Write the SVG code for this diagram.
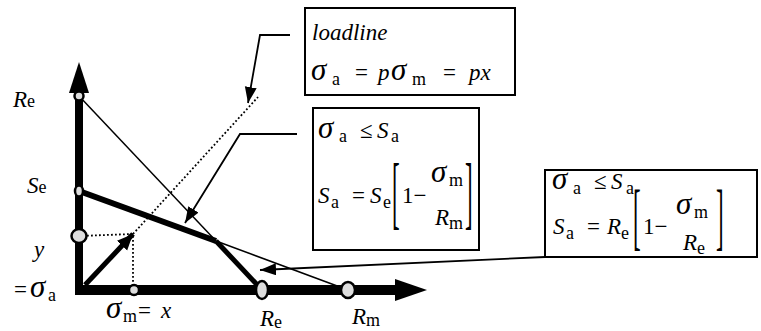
<svg xmlns="http://www.w3.org/2000/svg" width="761" height="331" viewBox="0 0 761 331">
<defs>
<style>
text{font-family:"Liberation Serif","Times New Roman","DejaVu Serif",serif;font-size:23px;fill:#000}
.i{font-style:italic}
.g{font-style:italic;font-size:31px}
.s{font-size:18px}
.box{fill:#fff;stroke:#000;stroke-width:2}
.pt{fill:#ddd;stroke:#000;stroke-width:2.5}
.thin{stroke:#000;stroke-width:1.5;fill:none}
.dot{stroke:#000;stroke-width:1.8;fill:none;stroke-dasharray:1.8 2.2}
.lead{stroke:#000;stroke-width:1.8;fill:none;marker-end:url(#ah)}
</style>
<marker id="ah" markerUnits="userSpaceOnUse" markerWidth="18" markerHeight="14" refX="16" refY="6" orient="auto"><path d="M0,0 L16,6 L0,12 z" fill="#000"/></marker>
<marker id="ah2" markerUnits="userSpaceOnUse" markerWidth="18" markerHeight="16" refX="16" refY="7" orient="auto"><path d="M0,0 L16,7 L0,14 z" fill="#000"/></marker>
</defs>

<g id="connectors">
<line class="thin" x1="79" y1="96" x2="216" y2="241"/>
<line x1="216" y1="241" x2="262" y2="290" stroke="#000" stroke-width="5"/>
<line x1="79" y1="191" x2="216" y2="241" stroke="#000" stroke-width="6"/>
<line class="thin" x1="216" y1="241" x2="348" y2="290"/>
<line class="dot" x1="133" y1="234" x2="258" y2="97"/>
<polyline class="dot" points="79,236 133,234 133,290"/>
<line x1="85" y1="285" x2="133" y2="234" stroke="#000" stroke-width="5" marker-end="url(#ah2)"/>
<polyline class="lead" points="290,35 260,35 248,103"/>
<polyline class="lead" points="297,134 240,134 185,223"/>
<polyline class="lead" points="545,257 260,270"/>
</g>

<g id="axes">
<line x1="79" y1="295" x2="79" y2="90" stroke="#000" stroke-width="8"/>
<polygon points="69,93 79,62 89,93" fill="#000"/>
<line x1="75" y1="290" x2="398" y2="290" stroke="#000" stroke-width="10"/>
<polygon points="395,279 427,290 395,301" fill="#000"/>
</g>

<g id="points">
<ellipse class="pt" cx="79" cy="96" rx="4.5" ry="4.5"/>
<ellipse class="pt" cx="79" cy="191" rx="4" ry="5.5"/>
<ellipse class="pt" cx="79" cy="236" rx="7.5" ry="7"/>
<ellipse class="pt" cx="134" cy="290" rx="5" ry="5"/>
<ellipse class="pt" cx="262" cy="290" rx="6" ry="9"/>
<ellipse class="pt" cx="348" cy="290" rx="7" ry="8"/>
</g>

<g id="labels">
<text x="13" y="107"><tspan class="i">R</tspan><tspan class="s">e</tspan></text>
<text x="27" y="193"><tspan class="i">S</tspan><tspan class="s">e</tspan></text>
<text x="34" y="257" class="i">y</text>
<text y="297"><tspan x="14">=</tspan><tspan class="g" x="30">σ</tspan><tspan class="s" x="48" dy="4">a</tspan></text>
<text y="318"><tspan class="g" x="106">σ</tspan><tspan class="s" x="123" dy="4">m</tspan><tspan x="138" dy="-4">=</tspan><tspan class="i" x="161">x</tspan></text>
<text x="260" y="326"><tspan class="i">R</tspan><tspan class="s" dy="2">e</tspan></text>
<text x="352" y="324"><tspan class="i">R</tspan><tspan class="s" dy="2">m</tspan></text>
</g>

<g id="box-loadline">
<rect class="box" x="305" y="8" width="210" height="87"/>
<text x="312" y="40" class="i">loadline</text>
<text y="80"><tspan class="g" x="311">σ</tspan><tspan class="s" x="332" dy="5">a</tspan><tspan x="355" dy="-5">=</tspan><tspan class="i" x="378">p</tspan><tspan class="g" x="391">σ</tspan><tspan class="s" x="412" dy="5">m</tspan><tspan x="443" dy="-5">=</tspan><tspan class="i" x="469">px</tspan></text>
</g>

<g id="box-goodman">
<rect class="box" x="313" y="108" width="166" height="142"/>
<text y="138"><tspan class="g" x="318">σ</tspan><tspan class="s" x="339" dy="4">a</tspan><tspan x="360" dy="-4">≤</tspan><tspan class="i" x="377">S</tspan><tspan class="s" x="391" dy="4">a</tspan></text>
<text y="203"><tspan class="i" x="318">S</tspan><tspan class="s" x="331" dy="5">a</tspan><tspan x="352" dy="-5">=</tspan><tspan class="i" x="370">S</tspan><tspan class="s" x="383" dy="5">e</tspan></text>
<text transform="translate(392,218.5) scale(1,3.5)">[</text>
<text x="402" y="203">1−</text>
<text y="182"><tspan class="g" x="431">σ</tspan><tspan class="s" x="449" dy="4">m</tspan></text>
<text y="225"><tspan class="i" x="435">R</tspan><tspan class="s" x="449" dy="4">m</tspan></text>
<text transform="translate(465,218.5) scale(1,3.5)">]</text>
</g>

<g id="box-yield">
<rect class="box" x="545" y="170" width="212" height="87"/>
<text y="189"><tspan class="g" x="552">σ</tspan><tspan class="s" x="573" dy="5">a</tspan><tspan x="594" dy="-5">≤</tspan><tspan class="i" x="611">S</tspan><tspan class="s" x="626" dy="5">a</tspan></text>
<text y="234"><tspan class="i" x="553">S</tspan><tspan class="s" x="566" dy="5">a</tspan><tspan x="587" dy="-5">=</tspan><tspan class="i" x="607">R</tspan><tspan class="s" x="621" dy="5">e</tspan></text>
<text transform="translate(633,241) scale(1,3.2)">[</text>
<text x="643" y="234">1−</text>
<text y="214"><tspan class="g" x="676">σ</tspan><tspan class="s" x="694" dy="4">m</tspan></text>
<text y="250"><tspan class="i" x="683">R</tspan><tspan class="s" x="697" dy="4">e</tspan></text>
<text transform="translate(716,241) scale(1,3.2)">]</text>
</g>
</svg>
